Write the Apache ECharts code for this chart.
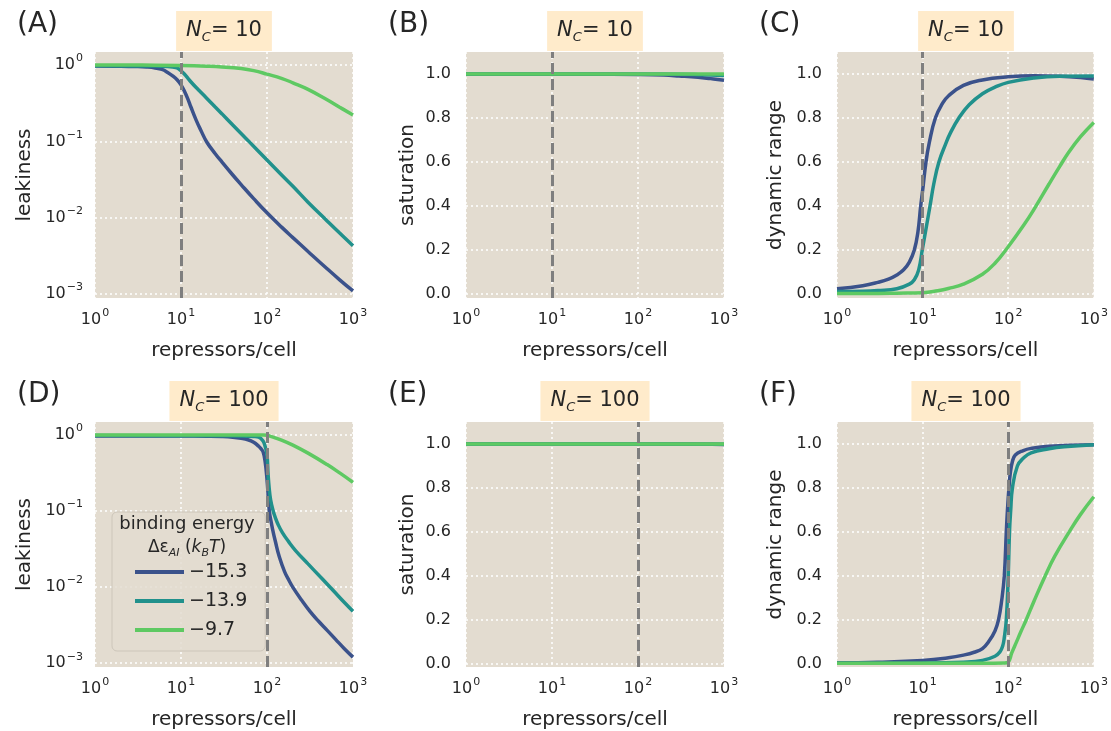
<!DOCTYPE html>
<html><head><meta charset="utf-8">
<script src="https://cdn.jsdelivr.net/npm/echarts@6/dist/echarts.min.js"></script>
<style>html,body{margin:0;padding:0;background:#fff}#c{width:1111px;height:731px}</style>
</head><body><div id="c"></div>
<script>
// ---------- labels / categories ----------
const energies = ['\u221215.3', '\u221213.9', '\u22129.7'];
const lineColors = ['#3b528b', '#21918c', '#5ec962'];
const ncValues = [10, 100];
const panelLetters = [['(A)', '(B)', '(C)'], ['(D)', '(E)', '(F)']];
const yNames = ['leakiness', 'saturation', 'dynamic range'];
const xName = 'repressors/cell';
const xTickExponents = ['0', '1', '2', '3'];
const logYTicks = [0.001, 0.01, 0.1, 1];
const logYTickExponents = ['\u22123', '\u22122', '\u22121', '0'];
const linYTicks = [0, 0.2, 0.4, 0.6, 0.8, 1.0];
const logYRange = [0.00089, 1.48];
const linYRange = [[-0.018, 1.1], [-0.014, 1.1]];

// ---------- N_C = 10 ----------
const leak10Blue = [[1,0.97],[2,0.965],[3,0.955],[4,0.94],[5,0.915],[6,0.875],[7,0.8],[8,0.72],[9,0.64],[10,0.55],[11,0.45],[12,0.36],[13,0.284],[15,0.19],[17,0.14],[20,0.0975],[25,0.069],[30,0.0535],[40,0.0363],[50,0.0272],[70,0.0178],[100,0.0116],[150,0.00743],[200,0.0055],[300,0.00362],[500,0.00215],[700,0.00154],[1000,0.0011]];
const leak10Teal = [[1,0.975],[3,0.972],[5,0.968],[7,0.955],[8,0.94],[9,0.915],[10,0.84],[11,0.756],[12,0.673],[13,0.604],[15,0.507],[17,0.44],[20,0.365],[25,0.282],[30,0.229],[40,0.164],[60,0.103],[100,0.057],[150,0.0357],[200,0.0258],[300,0.016],[500,0.0091],[700,0.0063],[1000,0.0043]];
const leak10Green = [[1,1.0],[5,0.995],[10,0.985],[20,0.965],[30,0.945],[50,0.9],[70,0.845],[100,0.76],[150,0.665],[200,0.585],[300,0.48],[500,0.35],[700,0.28],[1000,0.222]];

const sat10Blue = [[1,0.999],[50,0.999],[100,0.998],[200,0.995],[300,0.991],[500,0.985],[700,0.979],[1000,0.972]];
const sat10Teal = [[1,1.0],[100,1.0],[300,0.999],[500,0.997],[1000,0.993]];
const sat10Green = [[1,1.0],[10,1.0],[100,1.0],[1000,1.0]];

const dr10Blue = [[1,0.024],[2,0.038],[3,0.053],[4,0.068],[5,0.087],[6,0.11],[7,0.145],[8,0.2],[8.8,0.28],[9.5,0.4],[10,0.47],[10.95,0.6],[12,0.69],[14.1,0.8],[17,0.865],[20,0.9],[30,0.948],[50,0.973],[100,0.987],[200,0.992],[400,0.99],[700,0.984],[1000,0.977]];
const dr10Teal = [[1,0.012],[2,0.013],[3,0.016],[5,0.024],[7,0.045],[8,0.065],[9,0.11],[10,0.21],[11,0.3],[12.2,0.4],[13.5,0.5],[15.5,0.6],[18.5,0.68],[21,0.73],[26.5,0.8],[35,0.86],[50,0.91],[70,0.94],[100,0.962],[200,0.982],[400,0.99],[1000,0.991]];
const dr10Green = [[1,0.003],[3,0.003],[5,0.004],[10,0.006],[15,0.015],[20,0.025],[30,0.045],[50,0.09],[70,0.14],[100,0.215],[150,0.31],[200,0.385],[300,0.5],[400,0.58],[500,0.64],[700,0.715],[1000,0.78]];

// ---------- N_C = 100 ----------
const leak100Blue = [[1,0.97],[10,0.968],[20,0.962],[30,0.953],[40,0.935],[50,0.905],[60,0.865],[70,0.8],[80,0.71],[85,0.66],[90,0.6],[95,0.45],[100,0.26],[104,0.14],[107,0.095],[111,0.075],[116,0.058],[125,0.04],[139,0.025],[160,0.016],[181,0.0121],[200,0.0099],[251,0.0068],[316,0.0048],[398,0.00355],[501,0.0027],[631,0.00204],[794,0.00155],[1000,0.0012]];
const leak100Teal = [[1,0.98],[10,0.978],[30,0.975],[50,0.97],[70,0.955],[80,0.935],[90,0.83],[95,0.71],[100,0.55],[103,0.3],[106,0.2],[110,0.142],[118,0.1],[125,0.082],[135,0.066],[151,0.052],[180,0.039],[216,0.03],[300,0.0202],[438,0.01285],[600,0.0088],[800,0.00622],[1000,0.0048]];
const leak100Green = [[1,1.0],[50,1.0],[90,0.998],[100,0.99],[110,0.96],[120,0.93],[150,0.85],[200,0.736],[300,0.577],[500,0.408],[700,0.317],[1000,0.238]];

const sat100Blue = [[1,1.0],[100,1.0],[300,1.0],[1000,0.998]];
const sat100Teal = [[1,1.0],[100,1.0],[1000,0.999]];
const sat100Green = [[1,1.0],[10,1.0],[100,1.0],[1000,1.0]];

const dr100Blue = [[1,0.005],[3,0.008],[10,0.016],[20,0.028],[30,0.04],[40,0.053],[50,0.07],[60,0.105],[70,0.15],[77,0.2],[84,0.29],[90,0.4],[95,0.6],[98,0.7],[102,0.8],[106,0.87],[112,0.92],[121,0.95],[150,0.97],[185,0.98],[300,0.99],[1000,0.997]];
const dr100Teal = [[1,0.003],[10,0.004],[30,0.008],[50,0.016],[70,0.035],[80,0.055],[86,0.08],[90,0.12],[95,0.2],[100,0.4],[103.5,0.6],[107,0.7],[112,0.8],[128,0.9],[150,0.935],[185,0.96],[300,0.978],[450,0.987],[1000,0.996]];
const dr100Green = [[1,0.003],[10,0.003],[50,0.003],[90,0.004],[100,0.008],[110,0.05],[125,0.1],[140,0.145],[162,0.2],[200,0.285],[270,0.4],[350,0.49],[525,0.605],[700,0.68],[1000,0.76]];

const panelSeries = [
  [[leak10Blue, leak10Teal, leak10Green], [sat10Blue, sat10Teal, sat10Green], [dr10Blue, dr10Teal, dr10Green]],
  [[leak100Blue, leak100Teal, leak100Green], [sat100Blue, sat100Teal, sat100Green], [dr100Blue, dr100Teal, dr100Green]]
];

// ---------- layout / style ----------
const FONT = 'DejaVu Sans';
const TXT = '#262626';
const BG = '#E3DCD0';
const colLeft = [95, 466, 837];
const rowTop = [52, 422];
const plotW = 258, plotH = 246;
const yNameGap = [60, 48, 51];

const chart = echarts.init(document.getElementById('c'), null, {renderer: 'canvas', width: 1111, height: 731});

const grids = [], xAxes = [], yAxes = [], series = [], graphics = [];
const gridLine = {show: true, lineStyle: {color: '#ffffff', width: 1.5, type: [2, 3]}};
const supRich = {
  b: {fontSize: 16, fontFamily: FONT, color: TXT, lineHeight: 24, verticalAlign: 'middle'},
  s: {fontSize: 11, fontFamily: FONT, color: TXT, lineHeight: 13, verticalAlign: 'top', padding: [0, 0, 0, 1]}
};

let gi = 0;
for (let r = 0; r < 2; r++) {
  for (let c = 0; c < 3; c++) {
    grids.push({left: colLeft[c], top: rowTop[r], width: plotW, height: plotH, show: true,
      backgroundColor: BG, borderWidth: 0, containLabel: false});
    xAxes.push({
      gridIndex: gi, type: 'log', logBase: 10, min: 1, max: 1000,
      axisLine: {show: false}, axisTick: {show: false}, splitLine: gridLine,
      axisLabel: {margin: 10, color: TXT, fontFamily: FONT, rich: supRich,
        formatter: v => '{b|10}{s|' + xTickExponents[Math.round(Math.log10(v))] + '}'},
      name: xName, nameLocation: 'middle', nameGap: 43,
      nameTextStyle: {fontSize: 20, color: TXT, fontFamily: FONT}
    });
    const isLog = c === 0;
    const yAx = {
      gridIndex: gi,
      axisLine: {show: false}, splitLine: gridLine,
      name: yNames[c], nameLocation: 'middle', nameGap: yNameGap[c],
      nameTextStyle: {fontSize: 20, color: TXT, fontFamily: FONT}
    };
    if (isLog) {
      Object.assign(yAx, {type: 'log', logBase: 10, min: logYRange[0], max: logYRange[1],
        axisTick: {show: false, customValues: logYTicks},
        axisLabel: {customValues: logYTicks, margin: 12, color: TXT, fontFamily: FONT, rich: supRich,
          formatter: v => '{b|10}{s|' + logYTickExponents[Math.round(Math.log10(v)) + 3] + '}'}});
    } else {
      Object.assign(yAx, {type: 'value', min: linYRange[r][0], max: linYRange[r][1],
        axisTick: {show: false, customValues: linYTicks},
        axisLabel: {customValues: linYTicks, margin: 15, fontSize: 16, color: TXT, fontFamily: FONT,
          formatter: v => v.toFixed(1)}});
    }
    yAxes.push(yAx);

    panelSeries[r][c].forEach((data, k) => {
      const s = {
        type: 'line', name: energies[k], xAxisIndex: gi, yAxisIndex: gi, data: data,
        showSymbol: false, symbol: 'none', smooth: 0.45, silent: true,
        lineStyle: {color: lineColors[k], width: 3.5}, itemStyle: {color: lineColors[k]},
        emphasis: {disabled: true}, z: 2 + k
      };
      if (k === 2) {
        s.markLine = {silent: true, symbol: ['none', 'none'], label: {show: false},
          lineStyle: {color: '#7f7f7f', width: 3, type: [11, 5]},
          emphasis: {disabled: true}, data: [{xAxis: ncValues[r]}]};
      }
      series.push(s);
    });

    // panel letter
    graphics.push({type: 'text', left: colLeft[c] - 78, top: rowTop[r] - 41,
      style: {text: panelLetters[r][c], fontSize: 28, fill: TXT, fontFamily: FONT}});
    // title box
    graphics.push({type: 'text', x: colLeft[c] + plotW / 2, y: rowTop[r] - 1,
      style: {text: '{n|N}{s|C}{t|= ' + ncValues[r] + '}', align: 'center', verticalAlign: 'bottom',
        backgroundColor: '#FFEBCB', padding: [7, 10, 7, 10],
        rich: {
          n: {fontSize: 21, fontStyle: 'italic', fontFamily: FONT, fill: TXT, lineHeight: 26, verticalAlign: 'middle'},
          s: {fontSize: 13, fontStyle: 'italic', fontFamily: FONT, fill: TXT, lineHeight: 14, verticalAlign: 'bottom'},
          t: {fontSize: 21, fontFamily: FONT, fill: TXT, lineHeight: 26, verticalAlign: 'middle'}
        }}});
    gi++;
  }
}

// legend title (panel D)
graphics.push({type: 'text', x: 187, y: 524, z: 100,
  style: {text: 'binding energy', fontSize: 18, fontFamily: FONT, fill: TXT, align: 'center', verticalAlign: 'middle'}});
graphics.push({type: 'text', x: 187, y: 548, z: 100,
  style: {text: '{g|\u0394\u03b5}{s|AI}{g| (}{i|k}{s|B}{i|T}{g|)}', align: 'center', verticalAlign: 'middle',
    rich: {
      g: {fontSize: 17, fontFamily: FONT, fill: TXT, lineHeight: 22, verticalAlign: 'middle'},
      i: {fontSize: 17, fontStyle: 'italic', fontFamily: FONT, fill: TXT, lineHeight: 22, verticalAlign: 'middle'},
      s: {fontSize: 11, fontStyle: 'italic', fontFamily: FONT, fill: TXT, lineHeight: 12, verticalAlign: 'bottom'}
    }}});

chart.setOption({
  animation: false,
  backgroundColor: '#ffffff',
  grid: grids, xAxis: xAxes, yAxis: yAxes, series: series,
  legend: {
    data: energies, left: 112, top: 512, orient: 'vertical',
    padding: [49, 18, 10, 23], itemWidth: 49, itemHeight: 4, itemGap: 7, icon: 'rect',
    backgroundColor: 'rgba(227,220,208,0.85)', borderColor: '#cdc6ba', borderWidth: 1, borderRadius: 5,
    selectedMode: false,
    textStyle: {fontSize: 19, color: TXT, fontFamily: FONT, lineHeight: 22}
  },
  graphic: graphics
});
</script></body></html>
